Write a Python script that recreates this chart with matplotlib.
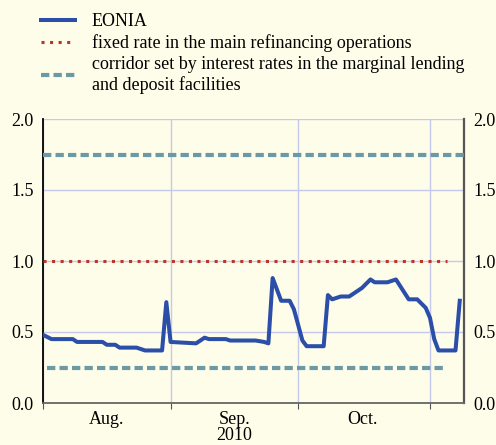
import matplotlib.pyplot as plt
import pandas as pd

# EONIA daily values
eonia_dates = ["2010-08-02", "2010-08-04", "2010-08-09", "2010-08-10", "2010-08-16",
               "2010-08-17", "2010-08-19", "2010-08-20", "2010-08-24", "2010-08-26",
               "2010-08-30", "2010-08-31", "2010-09-01", "2010-09-07", "2010-09-09",
               "2010-09-10", "2010-09-14", "2010-09-15", "2010-09-21", "2010-09-23",
               "2010-09-24", "2010-09-25", "2010-09-27", "2010-09-29", "2010-09-30",
               "2010-10-02", "2010-10-03", "2010-10-07", "2010-10-08", "2010-10-09",
               "2010-10-11", "2010-10-13", "2010-10-16", "2010-10-18", "2010-10-19",
               "2010-10-22", "2010-10-24", "2010-10-27", "2010-10-29", "2010-10-31",
               "2010-11-01", "2010-11-02", "2010-11-03", "2010-11-07", "2010-11-08"]
eonia_values = [0.48, 0.45, 0.45, 0.43, 0.43,
                0.41, 0.41, 0.39, 0.39, 0.37,
                0.37, 0.71, 0.43, 0.42, 0.46,
                0.45, 0.45, 0.44, 0.44, 0.43,
                0.42, 0.88, 0.72, 0.72, 0.66,
                0.44, 0.40, 0.40, 0.76, 0.73,
                0.75, 0.75, 0.81, 0.87, 0.85,
                0.85, 0.87, 0.73, 0.73, 0.67,
                0.60, 0.45, 0.37, 0.37, 0.72]

# policy rates
mro_dates = ["2010-08-02", "2010-11-05"]
mro_rate = [1.00, 1.00]
mlf_dates = ["2010-08-02", "2010-11-09"]
mlf_rate = [1.75, 1.75]
dep_dates = ["2010-08-03", "2010-11-05"]
dep_rate = [0.25, 0.25]

month_ticks = ["2010-08-02", "2010-09-01", "2010-10-01", "2010-11-01"]
month_label_pos = ["2010-08-17", "2010-09-16", "2010-10-16"]
month_labels = ["Aug.", "Sep.\n2010", "Oct."]
y_ticks = [0.0, 0.5, 1.0, 1.5, 2.0]

bg = "#fefde9"
blue = "#2b4ea8"
red = "#b8362c"
teal = "#6b9aa6"
grid_c = "#c5c9ee"

plt.rcParams["font.family"] = ["Liberation Serif", "DejaVu Serif"]
plt.rcParams["font.size"] = 13

fig = plt.figure(figsize=(4.96, 4.45), dpi=100, facecolor=bg)
ax = fig.add_axes([43 / 496, 42 / 445, 421 / 496, 284 / 445], facecolor=bg)

d = lambda s: pd.to_datetime(s)

l1, = ax.plot(d(eonia_dates), eonia_values, color=blue, lw=2.9,
              solid_joinstyle="round", zorder=5, label="EONIA")
l2, = ax.plot(d(mro_dates), mro_rate, color=red, lw=2.2, linestyle=(0, (1, 1.8)),
              zorder=4, label="fixed rate in the main refinancing operations")
l3, = ax.plot(d(mlf_dates), mlf_rate, color=teal, lw=3, linestyle=(0, (2, 1)),
              zorder=4, label="corridor set by interest rates in the marginal lending\nand deposit facilities")
ax.plot(d(dep_dates), dep_rate, color=teal, lw=3, linestyle=(0, (2, 1)), zorder=4)

ax.set_xlim(d("2010-08-02"), d("2010-11-09"))
ax.set_ylim(0, 2.0)

ax.set_xticks(d(month_ticks))
ax.set_xticklabels([])
ax.set_xticks(d(month_label_pos), minor=True)
ax.set_xticklabels(month_labels, minor=True, linespacing=0.95)
ax.tick_params(axis="x", which="major", length=4, color="#555555", direction="out")
ax.tick_params(axis="x", which="minor", length=0, pad=5.5)

ax.set_yticks(y_ticks)
ax.set_yticklabels([f"{v:.1f}" for v in y_ticks])
ax.tick_params(axis="y", length=0, pad=6.5, labelleft=True, labelright=True)

ax.grid(True, which="major", color=grid_c, lw=1)
ax.set_axisbelow(True)

ax.spines["top"].set_visible(False)
ax.spines["left"].set_color("black")
ax.spines["left"].set_linewidth(1.3)
ax.spines["right"].set_color("#555555")
ax.spines["right"].set_linewidth(1.6)
ax.spines["bottom"].set_color("#666666")
ax.spines["bottom"].set_linewidth(1.3)

fig.legend(handles=[l1, l2, l3], loc="upper left", bbox_to_anchor=(34 / 496, 1 - 6 / 445),
           borderaxespad=0, frameon=False, handlelength=1.85, handletextpad=0.95,
           labelspacing=0.22, fontsize=13)

fig.savefig("out.png", dpi=100, facecolor=bg)
